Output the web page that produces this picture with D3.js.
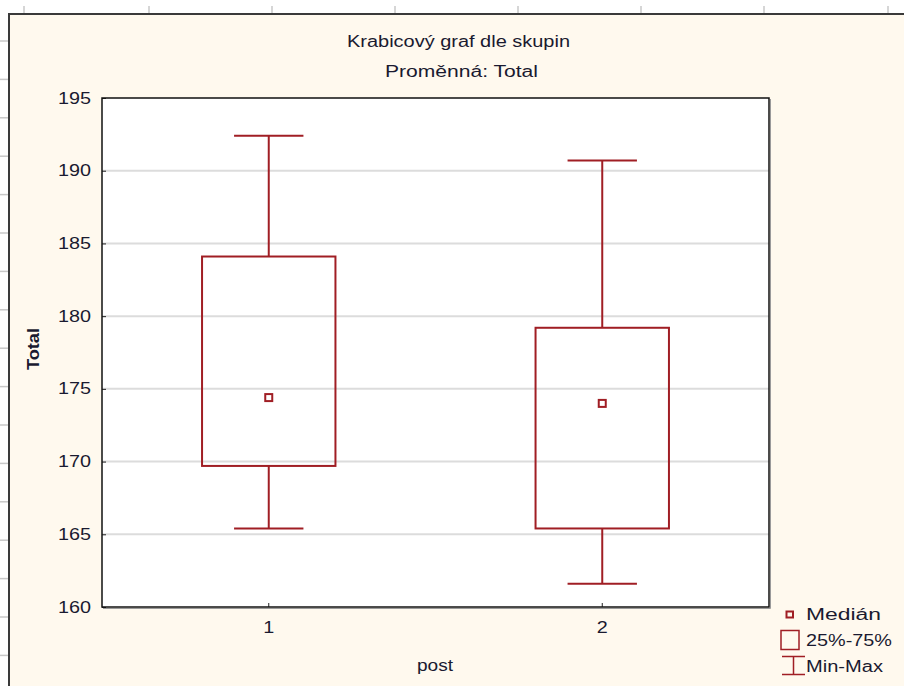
<!DOCTYPE html>
<html>
<head>
<meta charset="utf-8">
<script src="https://cdn.jsdelivr.net/npm/d3@7"></script>
<style>
  html, body { margin: 0; padding: 0; background: #ffffff; }
  svg { display: block; }
  text { font-family: "Liberation Sans", Arial, sans-serif; }
</style>
</head>
<body>
<svg id="chart" width="904" height="686"></svg>
<script>
// Group labels and summary statistics of the variable "Total"
const groups   = ["1", "2"];
const minVals  = [165.4, 161.6];
const q1Vals   = [169.7, 165.4];
const medVals  = [174.4, 174.0];
const q3Vals   = [184.1, 179.2];
const maxVals  = [192.4, 190.7];
const yTicks   = [160, 165, 170, 175, 180, 185, 190, 195];
const legendLabels = ["Medián", "25%-75%", "Min-Max"];

const boxes = groups.map((g, i) => ({
  group: g, min: minVals[i], q1: q1Vals[i], med: medVals[i], q3: q3Vals[i], max: maxVals[i]
}));

const W = 904, H = 686;
const red = "#a01e24";
const ink = "#1a1a30";
const svg = d3.select("#chart");

// Wide, Windows-style lettering: stretch each label to a set width
function wide(sel, len) {
  sel.attr("textLength", len).attr("lengthAdjust", "spacingAndGlyphs");
  return sel;
}

// Worksheet backdrop: faint column/row markers and the cream graph window
const bg = svg.append("g");
const colMarks = [24, 149, 272, 395, 518, 641, 764, 888];
bg.selectAll("line.col").data(colMarks).enter().append("line")
  .attr("x1", d => d).attr("x2", d => d).attr("y1", 6).attr("y2", 13)
  .attr("stroke", "#c8c8c8").attr("stroke-width", 1.5);
const rowMarks = d3.range(41, 686, 38.4);
bg.selectAll("line.row").data(rowMarks).enter().append("line")
  .attr("x1", 0).attr("x2", 8).attr("y1", d => d).attr("y2", d => d)
  .attr("stroke", "#c8c8c8").attr("stroke-width", 1.5);
bg.append("rect").attr("x", 8).attr("y", 13).attr("width", W).attr("height", H)
  .attr("fill", "#fff9ee");
bg.append("path").attr("d", `M9,${H} V14 H${W}`)
  .attr("fill", "none").attr("stroke", "#3a3a3a").attr("stroke-width", 2);

// Plot area
const plot = { left: 102, top: 98, right: 769, bottom: 607 };
const x = d3.scaleBand().domain(groups).range([plot.left, plot.right]).paddingInner(0.5).paddingOuter(0.25);
const y = d3.scaleLinear().domain([160, 195]).range([plot.bottom, plot.top]);
const cx = g => x(g) + x.bandwidth() / 2;
const boxW = (plot.right - plot.left) * 0.2;
const capW = boxW * 0.52;

svg.append("rect").attr("x", plot.left).attr("y", plot.top)
  .attr("width", plot.right - plot.left).attr("height", plot.bottom - plot.top)
  .attr("fill", "#ffffff");

// Horizontal gridlines
svg.append("g").selectAll("line").data(yTicks.filter(t => t > 160 && t < 195)).enter().append("line")
  .attr("x1", plot.left).attr("x2", plot.right)
  .attr("y1", d => y(d)).attr("y2", d => y(d))
  .attr("stroke", "#dcdcdc").attr("stroke-width", 2);

// Axes
const yAxis = d3.axisLeft(y).tickValues(yTicks).tickSizeInner(-4).tickSizeOuter(0).tickPadding(11);
const gy = svg.append("g").attr("transform", `translate(${plot.left},0)`).call(yAxis);
gy.select(".domain").remove();
gy.selectAll(".tick line").attr("stroke", "#222");
gy.selectAll(".tick text").attr("font-size", 16).attr("fill", ink)
  .attr("font-family", "'Liberation Sans', Arial, sans-serif")
  .call(wide, 33);

const xAxis = d3.axisBottom(x).tickSizeInner(-4).tickSizeOuter(0).tickPadding(15);
const gx = svg.append("g").attr("transform", `translate(0,${plot.bottom})`).call(xAxis);
gx.select(".domain").remove();
gx.selectAll(".tick line").attr("stroke", "#222");
gx.selectAll(".tick text").attr("font-size", 16).attr("fill", ink)
  .attr("font-family", "'Liberation Sans', Arial, sans-serif")
  .call(wide, 11);

// Plot frame with a slight shadow on the lower-right edges
svg.append("path")
  .attr("d", `M${plot.right + 1.5},${plot.top + 1} V${plot.bottom + 1.5} H${plot.left + 1}`)
  .attr("fill", "none").attr("stroke", "#9a9a9a").attr("stroke-width", 1);
svg.append("rect").attr("x", plot.left).attr("y", plot.top)
  .attr("width", plot.right - plot.left).attr("height", plot.bottom - plot.top)
  .attr("fill", "none").attr("stroke", "#111").attr("stroke-width", 1.5);

// Box plots
const bp = svg.append("g").attr("stroke", red).attr("stroke-width", 2).attr("fill", "none");
const b = bp.selectAll("g.box").data(boxes).enter().append("g");
b.append("line").attr("x1", d => cx(d.group)).attr("x2", d => cx(d.group))
  .attr("y1", d => y(d.max)).attr("y2", d => y(d.q3));
b.append("line").attr("x1", d => cx(d.group)).attr("x2", d => cx(d.group))
  .attr("y1", d => y(d.q1)).attr("y2", d => y(d.min));
b.append("line").attr("x1", d => cx(d.group) - capW / 2).attr("x2", d => cx(d.group) + capW / 2)
  .attr("y1", d => y(d.max)).attr("y2", d => y(d.max));
b.append("line").attr("x1", d => cx(d.group) - capW / 2).attr("x2", d => cx(d.group) + capW / 2)
  .attr("y1", d => y(d.min)).attr("y2", d => y(d.min));
b.append("rect").attr("x", d => cx(d.group) - boxW / 2).attr("width", boxW)
  .attr("y", d => y(d.q3)).attr("height", d => y(d.q1) - y(d.q3));
b.append("rect").attr("x", d => cx(d.group) - 3.5).attr("y", d => y(d.med) - 3.5)
  .attr("width", 7).attr("height", 7);

// Titles
svg.append("text").attr("x", 458.5).attr("y", 47).attr("text-anchor", "middle")
  .attr("font-size", 16).attr("fill", ink).text("Krabicový graf dle skupin").call(wide, 223);
svg.append("text").attr("x", 461.5).attr("y", 77).attr("text-anchor", "middle")
  .attr("font-size", 16).attr("fill", ink).text("Proměnná: Total").call(wide, 153);

// Axis titles
svg.append("text").attr("x", 435).attr("y", 671).attr("text-anchor", "middle")
  .attr("font-size", 16).attr("fill", ink).text("post").call(wide, 36);
svg.append("text").attr("transform", "translate(39,349) rotate(-90)")
  .attr("text-anchor", "middle").attr("font-size", 16).attr("font-weight", "bold")
  .attr("fill", ink).text("Total").call(wide, 42);

// Legend
const lg = svg.append("g");
lg.append("rect").attr("x", 786.5).attr("y", 611.5).attr("width", 6.5).attr("height", 6)
  .attr("fill", "none").attr("stroke", red).attr("stroke-width", 2);
lg.append("rect").attr("x", 781).attr("y", 630.5).attr("width", 18).attr("height", 19)
  .attr("fill", "none").attr("stroke", red).attr("stroke-width", 1.5);
lg.append("path").attr("d", "M782,656.5 H805 M793.5,656.5 V674.5 M782,674.5 H805")
  .attr("fill", "none").attr("stroke", red).attr("stroke-width", 1.5);
const legendWidths = [75, 86, 77];
lg.selectAll("text").data(legendLabels).enter().append("text")
  .attr("x", 806).attr("y", (d, i) => 619.5 + i * 26)
  .attr("font-size", 16).attr("fill", ink).text(d => d)
  .each(function(d, i) { d3.select(this).call(wide, legendWidths[i]); });
</script>
</body>
</html>
